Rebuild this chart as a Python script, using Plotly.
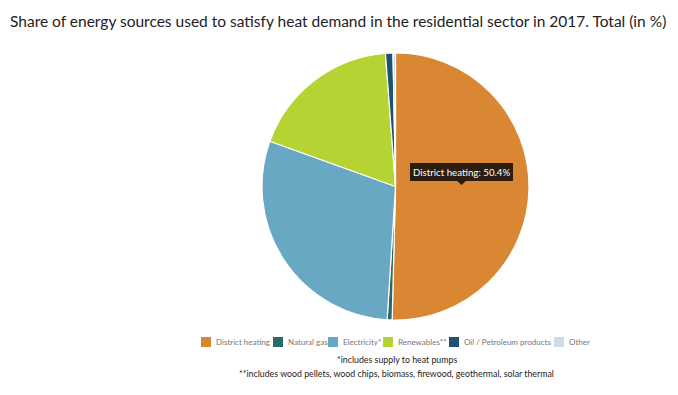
import plotly.graph_objects as go

labels = ["District heating", "Natural gas", "Electricity*", "Renewables**",
          "Oil / Petroleum products", "Other"]
values = [50.4, 0.6, 29.5, 18.3, 0.9, 0.3]
colors = ["#D98733", "#2A6B68", "#68A8C2", "#B5D333", "#1D5275", "#CBDDE8"]

title_text = "Share of energy sources used to satisfy heat demand in the residential sector in 2017. Total (in %)"
footnotes = ["*includes supply to heat pumps",
             "**includes wood pellets, wood chips, biomass, firewood, geothermal, solar thermal"]

OFF = 8  # page body margin
W, H = 678 - OFF, 395 - OFF
cx, cy, r = 395.5, 186.5, 133.5
FONT = "Lato, sans-serif"


def px(x):
    return (x - OFF) / W


def py(y):
    return 1 - (y - OFF) / H


fig = go.Figure(go.Pie(
    labels=labels, values=values, sort=False, direction="clockwise", rotation=0,
    marker=dict(colors=colors, line=dict(color="white", width=1.2)),
    textinfo="none", hoverinfo="label+percent", showlegend=False,
    domain=dict(x=[px(cx - r), px(cx + r)], y=[py(cy + r), py(cy - r)]),
))

annotations = [
    dict(text=title_text, x=px(8), y=py(21), xref="paper", yref="paper",
         xanchor="left", yanchor="middle", showarrow=False,
         font=dict(family=FONT, size=15.5, color="#222222")),
    dict(text=footnotes[0], x=px(396.5), y=py(359), xref="paper", yref="paper",
         xanchor="center", yanchor="middle", showarrow=False,
         font=dict(family=FONT, size=8.8, color="#222222")),
    dict(text=footnotes[1], x=px(396), y=py(373), xref="paper", yref="paper",
         xanchor="center", yanchor="middle", showarrow=False,
         font=dict(family=FONT, size=8.8, color="#222222")),
    dict(text=f"{labels[0]}: {values[0]}%", x=px(461.5), y=py(172), xref="paper", yref="paper",
         xanchor="center", yanchor="middle", showarrow=False,
         bgcolor="#2B1D10", bordercolor="#2B1D10", borderpad=2,
         font=dict(family=FONT, size=9.7, color="white")),
]

shapes = [
    dict(type="path", xref="paper", yref="paper",
         path=f"M {px(456)} {py(180)} L {px(467)} {py(180)} L {px(461.5)} {py(185)} Z",
         fillcolor="#2B1D10", line=dict(width=0)),
]

# compact legend row
legend_x = [201, 273, 328, 383, 449, 554]
for lx, lab, col in zip(legend_x, labels, colors):
    shapes.append(dict(type="rect", xref="paper", yref="paper",
                       x0=px(lx), x1=px(lx + 10), y0=py(347), y1=py(337),
                       fillcolor=col, line=dict(width=0)))
    annotations.append(dict(text=lab, x=px(lx + 13), y=py(342), xref="paper", yref="paper",
                            xanchor="left", yanchor="middle", showarrow=False,
                            font=dict(family=FONT, size=8, color="#777777")))

fig.update_layout(
    width=W, height=H,
    margin=dict(l=0, r=0, t=0, b=0, autoexpand=False),
    paper_bgcolor="white", plot_bgcolor="white",
    annotations=annotations, shapes=shapes,
    showlegend=False,
)

fig.write_html("out.html")
